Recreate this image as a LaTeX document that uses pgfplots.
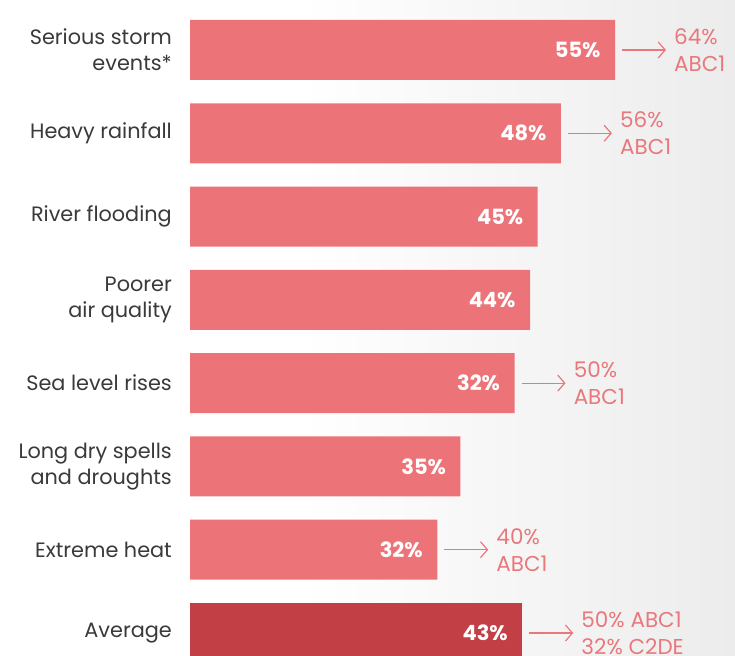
\documentclass[border=0pt]{standalone}
\usepackage{pgfplots}
\pgfplotsset{compat=1.18}
\usetikzlibrary{arrows.meta}
\usepackage{fontspec}
\setmainfont{Poppins}
\definecolor{barc}{HTML}{EC7479}
\definecolor{avgc}{HTML}{C24045}
\definecolor{annc}{HTML}{E9787D}
\definecolor{labc}{HTML}{3A3A3A}
\definecolor{bgr}{HTML}{ECECEC}
\begin{document}
\begin{tikzpicture}[x=1pt,y=1pt]
\fill[white] (0,0) rectangle (300,655);
\shade[left color=white,right color=bgr] (300,0) rectangle (735,655);
\begin{axis}[
  at={(190pt,0pt)}, anchor=south west,
  scale only axis, width=545pt, height=655pt,
  xmin=0, xmax=70.53, ymin=-0.264, ymax=7.6,
  axis line style={draw=none},
  xtick=\empty,
  ytick={0,1,2,3,4,5,6,7},
  yticklabels={{Average},{Extreme heat},{Long dry spells\\and droughts},{Sea level rises},{Poorer\\air quality},{River flooding},{Heavy rainfall},{Serious storm\\events*}},
  major tick length=0pt,
  tick style={draw=none},
  yticklabel style={anchor=east, align=right, inner sep=0pt, xshift=-18pt, text=labc, font=\fontsize{20.8}{26}\selectfont},
  xbar, bar width=60pt,
  point meta=explicit symbolic,
  nodes near coords,
  nodes near coords style={anchor=east, xshift=-11pt, text=white, font=\bfseries\fontsize{21}{21}\selectfont},
]
\addplot[fill=barc, draw=none, bar shift=0pt] coordinates {
  (55,7) [55\%]
  (48,6) [48\%]
  (45,5) [45\%]
  (44,4) [44\%]
  (42,3) [32\%]
  (35,2) [35\%]
  (32,1) [32\%]
};
\addplot[fill=avgc, draw=none, bar shift=0pt] coordinates {
  (43,0) [43\%]
};
\tikzset{arr/.style={draw=annc, line width=1.2pt, -{Straight Barb[length=7pt,width=16pt]}},
         ann/.style={anchor=west, align=left, text=annc, inner sep=0pt, font=\fontsize{21.5}{27}\selectfont}}
\draw[arr] ([xshift=7pt]axis cs:55,7) -- ([xshift=51pt]axis cs:55,7);
\node[ann] at ([xshift=59pt]axis cs:55,7) {64\%\\ABC1};
\draw[arr] ([xshift=7pt]axis cs:48,6) -- ([xshift=51pt]axis cs:48,6);
\node[ann] at ([xshift=59pt]axis cs:48,6) {56\%\\ABC1};
\draw[arr] ([xshift=7pt]axis cs:42,3) -- ([xshift=51pt]axis cs:42,3);
\node[ann] at ([xshift=59pt]axis cs:42,3) {50\%\\ABC1};
\draw[arr] ([xshift=7pt]axis cs:32,1) -- ([xshift=51pt]axis cs:32,1);
\node[ann] at ([xshift=59pt]axis cs:32,1) {40\%\\ABC1};
\draw[arr] ([xshift=7pt]axis cs:43,0) -- ([xshift=51pt]axis cs:43,0);
\node[ann] at ([xshift=59pt]axis cs:43,0) {50\% ABC1\\32\% C2DE};
\end{axis}
\pgfresetboundingbox
\useasboundingbox (0,0) rectangle (735,655);
\end{tikzpicture}
\end{document}
